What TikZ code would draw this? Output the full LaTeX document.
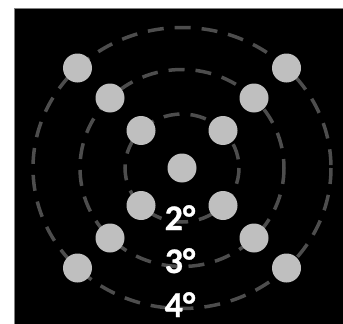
\documentclass[tikz,border=0pt]{standalone}
\usepackage{fontspec}
\setmainfont{Carlito}
\newfontfamily\degfont{Carlito}[UprightFont={* Bold},FakeBold=0.8]
\usetikzlibrary{calc}
\usepackage{xcolor}
\definecolor{ringgray}{RGB}{77,77,77}
\definecolor{dotgray}{RGB}{191,191,191}
\definecolor{framegray}{RGB}{128,128,128}

\begin{document}
\begin{tikzpicture}[x=1pt,y=-1pt,
  ring/.style={draw=ringgray,line width=3.5pt,
               dash pattern=on 16pt off 11pt},
  dot/.style={circle,fill=dotgray,minimum size=29pt,inner sep=0pt},
  deg/.style={text=white,anchor=base,inner sep=0pt,
              font=\fontsize{36}{36}\degfont}
]
\useasboundingbox (0,0) rectangle (343,324);
\fill[black] (14,8) rectangle (343,324);
\draw[framegray,line width=0.8pt] (14,324) -- (14,8) -- (343,8);

% rings of the grid
\coordinate (c) at (182,168);
\draw[ring] (c) ellipse [x radius=57,y radius=54];
\draw[ring] (c) ellipse [x radius=102,y radius=98.5];
\draw[ring] (c) ellipse [x radius=149,y radius=140.5];

% dots on the diagonals
\node[dot] (d0) at (c) {};
\foreach \r/\dx/\dy in {a/41/37.5,b/72/70,o/104.5/100}{
  \node[dot] (\r ul) at ($(c)+(-\dx,-\dy)$) {};
  \node[dot] (\r ur) at ($(c)+(\dx,-\dy)$) {};
  \node[dot] (\r ll) at ($(c)+(-\dx,\dy)$) {};
  \node[dot] (\r lr) at ($(c)+(\dx,\dy)$) {};
}

\node[deg] (two)   at (180,230) {2°};
\node[deg] (three) at (180,273) {3°};
\node[deg] (four)  at (180,317) {4°};
\end{tikzpicture}
\end{document}
